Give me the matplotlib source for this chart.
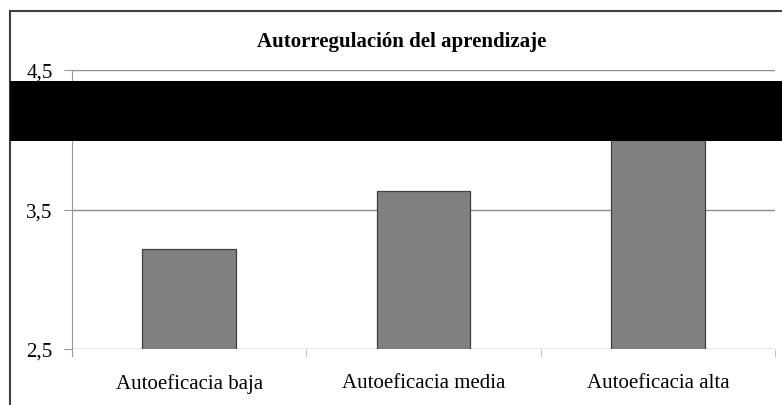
import numpy as np
import matplotlib.pyplot as plt
from matplotlib.patches import Rectangle
from matplotlib.ticker import FixedLocator

# Data
categories = ["Autoeficacia baja", "Autoeficacia media", "Autoeficacia alta"]
values = [3.22, 3.63, 4.0]
y_ticks = [2.5, 3.5, 4.5]
y_tick_labels = ["2,5", "3,5", "4,5"]

plt.rcParams["font.family"] = ["Liberation Serif", "DejaVu Serif"]

fig = plt.figure(figsize=(7.82, 4.06), dpi=100)
ax = fig.add_axes([72 / 782, 1 - 350 / 406, (775 - 72) / 782, (350 - 71) / 406])

x = np.arange(len(categories))
ax.bar(x, values, 0.4, color="#808080", edgecolor="#404040", linewidth=0.9, zorder=3)

ax.set_xlim(-0.5, 2.5)
ax.set_ylim(2.5, 4.5)
ax.set_yticks(y_ticks)
ax.set_yticklabels(y_tick_labels, fontsize=15)
ax.tick_params(axis="y", length=6, color="#999999", pad=8)
ax.yaxis.grid(True, color="#8c8c8c", linewidth=1.0, zorder=0)

ax.set_xticks(x)
ax.set_xticklabels(categories, fontsize=15)
ax.tick_params(axis="x", which="major", length=0, pad=17)
ax.xaxis.set_minor_locator(FixedLocator([0.5, 1.5, 2.5]))
ax.tick_params(axis="x", which="minor", length=6, color="#bbbbbb", direction="out")

for side in ["top", "right", "bottom"]:
    ax.spines[side].set_visible(False)
ax.spines["left"].set_color("#999999")
ax.spines["left"].set_bounds(2.5 - 0.05, 4.5)

fig.text(402 / 782, 1 - 42 / 406, "Autorregulación del aprendizaje",
         ha="center", va="center", fontsize=15, fontweight="bold")

# outer chart frame (cropped on right and bottom)
fig.add_artist(Rectangle((10 / 782, -0.1), 1.2, 1 - 12 / 406 + 0.1, transform=fig.transFigure,
                         fill=False, edgecolor="#404040", linewidth=1.5, zorder=5))

# black band across the chart
fig.add_artist(Rectangle((10 / 782, 1 - 142 / 406), 1.0, 60 / 406, transform=fig.transFigure,
                         facecolor="black", edgecolor="none", zorder=6))

plt.savefig("out.png", dpi=100)
